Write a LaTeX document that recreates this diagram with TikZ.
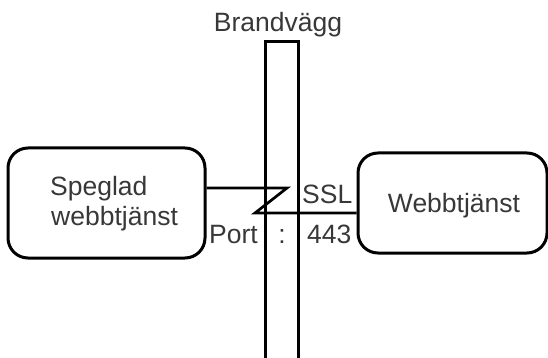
\documentclass[tikz,border=0pt]{standalone}
\usepackage{fontspec}
\setmainfont{Liberation Sans}
\begin{document}
\begin{tikzpicture}[x=1pt,y=-1pt,
  lbl/.style={inner sep=0pt,text=black!78,font=\fontsize{26.5}{31}\selectfont},
  svc/.style={draw,line width=3pt,rounded corners=20pt,inner sep=0pt},
  wire/.style={line width=2.7pt}]
\useasboundingbox (0,0) rectangle (548,358);
% firewall column, open at the bottom
\draw[line width=3pt] (265,362) -- (265,42) -- (298,42) -- (298,362);
\node[lbl,anchor=base] (fw) at (278,32) {Brandvägg};
% services
\node[svc,minimum width=197pt,minimum height=110pt] (mirror) at (106.5,203) {};
\node[svc,minimum width=189pt,minimum height=100pt] (web) at (452.5,203) {};
\node[lbl,anchor=base west] (mirrortxt) at (50,195) {Speglad};
\node[lbl,anchor=base west] (mirrortxt2) at (51,225) {webbtjänst};
\node[lbl,anchor=base] (webtxt) at (454,212) {Webbtjänst};
% SSL link through the firewall
\coordinate (z1) at (287,188);
\coordinate (z2) at (255,213);
\draw[wire] (mirror.east |- z1) -- (z1) -- (z2) -- (web.west |- z2);
\node[lbl,anchor=base west] (ssl) at (302,203) {SSL};
\node[lbl,anchor=base west] (port) at (209,243) {Port};
\node[lbl,anchor=base] (colon) at (282,243) {:};
\node[lbl,anchor=base west] (num) at (307,243) {443};
\end{tikzpicture}
\end{document}
